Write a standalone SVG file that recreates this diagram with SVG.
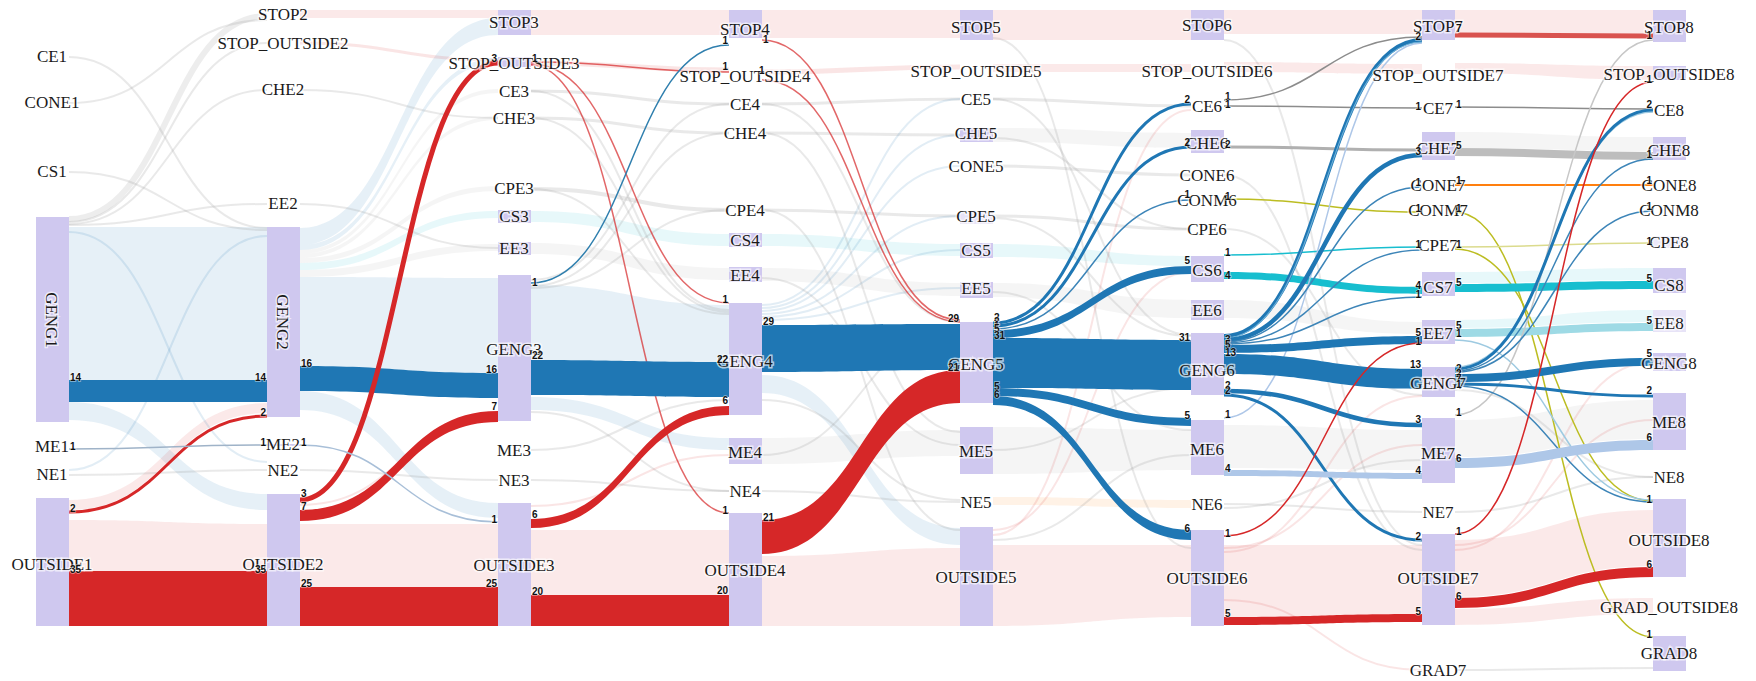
<svg xmlns="http://www.w3.org/2000/svg" width="1756" height="681" viewBox="0 0 1756 681">
<style>
.node{fill:#cfc8ef}
.lbl{font-family:"Liberation Serif","Times New Roman",serif;font-size:17px;fill:#1a1a1a;text-anchor:middle;stroke:#fff;stroke-width:3px;stroke-opacity:.65;paint-order:stroke}
.v{font-family:"Liberation Sans",Arial,sans-serif;font-size:10px;font-weight:bold;fill:#111;stroke:#fff;stroke-width:1.5px;stroke-opacity:.5;paint-order:stroke}
.ve{text-anchor:end}
.fb{fill:#1f77b4;fill-opacity:.11}
.fr{fill:#d62728;fill-opacity:.1}
.fg{fill:#7f7f7f;fill-opacity:.08}
.fc{fill:#17becf;fill-opacity:.1}
.fo{fill:#ff7f0e;fill-opacity:.1}
.fl{fill:none;stroke:#9a9a9a;stroke-opacity:.22;stroke-width:2}
.flb{fill:none;stroke:#1f77b4;stroke-opacity:.13;stroke-width:2}
.flr{fill:none;stroke:#d62728;stroke-opacity:.12;stroke-width:2}
.hb{fill:#1f77b4}
.hr{fill:#d62728}
.hc{fill:#17becf}
.hl{fill:#aec7e8}
.ht{fill:#9edae5}
.s{fill:none}
</style>

<g id="links">
  <g id="context-links">
    <!-- column 1 to 2 -->
    <path class="fb" d="M69 227H267V380H69Z"/>
    <path class="fb" d="M69 402C168 402 168 494 267 494L267 510C168 510 168 420 69 420Z"/>
    <path class="fr" d="M69 500C168 500 168 403 267 403L267 413C168 413 168 510 69 510Z"/>
    <path class="fr" d="M69 520C168 520 168 524 267 524L267 571L69 571Z"/>
    <path class="fl" style="stroke-width:6;stroke-opacity:.18" d="M69 219C168 219 168 16 267 16"/>
    <path class="fl" d="M69 222C168 222 168 43 267 43"/>
    <path class="fl" d="M69 224C168 224 168 90 267 90"/>
    <path class="fl" d="M69 225C168 225 168 204 267 204"/>
    <path class="fl" d="M69 57C168 57 168 228 267 228"/>
    <path class="fl" d="M69 103C168 103 168 20 267 20"/>
    <path class="fl" d="M69 172C168 172 168 230 267 230"/>
    <path class="fl" d="M69 475C168 475 168 470 267 470"/>
    <path class="flb" d="M69 232C168 232 168 462 267 462"/>
    <path class="flb" d="M69 470C168 470 168 236 267 236"/>

    <!-- column 2 to 3 -->
    <path class="fr" d="M300 10H498V18H300Z"/>
    <path class="fb" d="M300 228C399 228 399 18 498 18L498 35C399 35 399 245 300 245Z"/>
    <path class="fb" d="M300 245C399 245 399 58 498 58L498 63C399 63 399 250 300 250Z"/>
    <path class="fg" d="M300 250C399 250 399 89 498 89L498 93C399 93 399 254 300 254Z"/>
    <path class="fg" d="M300 254C399 254 399 116 498 116L498 120C399 120 399 258 300 258Z"/>
    <path class="fg" d="M300 258C399 258 399 186 498 186L498 191C399 191 399 263 300 263Z"/>
    <path class="fc" d="M300 263C399 263 399 211 498 211L498 218C399 218 399 270 300 270Z"/>
    <path class="fg" d="M300 270C399 270 399 244 498 244L498 251C399 251 399 277 300 277Z"/>
    <path class="fb" d="M300 277C399 277 399 278 498 278L498 373C399 373 399 366 300 366Z"/>
    <path class="fb" d="M300 391C399 391 399 503 498 503L498 518C399 518 399 410 300 410Z"/>
    <path class="fr" d="M300 524H498V587H300Z"/>
    <path class="flr" style="stroke-width:3" d="M300 43C399 43 399 60 498 60"/>
    <path class="fl" d="M300 90C399 90 399 118 498 118"/>
    <path class="fl" d="M300 204C399 204 399 248 498 248"/>
    <path class="fl" d="M300 470C399 470 399 480 498 480"/>
    <path class="flr" d="M300 505C399 505 399 420 498 420"/>

    <!-- column 3 to 4 -->
    <path class="fr" d="M531 10H729V35H531Z"/>
    <path class="flr" style="stroke-width:5" d="M531 63C630 63 630 70 729 70"/>
    <path class="fl" style="stroke-width:3" d="M531 91C630 91 630 104 729 104"/>
    <path class="fl" style="stroke-width:3" d="M531 118C630 118 630 133 729 133"/>
    <path class="fl" style="stroke-width:4" d="M531 189C630 189 630 210 729 210"/>
    <path class="fc" d="M531 211C630 211 630 234 729 234L729 246C630 246 630 222 531 222Z"/>
    <path class="fg" d="M531 243C630 243 630 268 729 268L729 280C630 280 630 254 531 254Z"/>
    <path class="fb" d="M531 285C630 285 630 305 729 305L729 362C630 362 630 360 531 360Z"/>
    <path class="fb" d="M531 397C630 397 630 438 729 438L729 450C630 450 630 410 531 410Z"/>
    <path class="fr" d="M531 530H729V595H531Z"/>
    <path class="fl" d="M531 280C630 280 630 104 729 104"/>
    <path class="fl" d="M531 286C630 286 630 133 729 133"/>
    <path class="fl" d="M531 288C630 288 630 210 729 210"/>
    <path class="fl" d="M531 91C630 91 630 310 729 310"/>
    <path class="fl" d="M531 118C630 118 630 312 729 312"/>
    <path class="fl" d="M531 189C630 189 630 314 729 314"/>
    <path class="fl" d="M531 412C630 412 630 491 729 491"/>
    <path class="fl" d="M531 450C630 450 630 400 729 400"/>
    <path class="fl" d="M531 480C630 480 630 491 729 491"/>
    <path class="flr" d="M531 506C630 506 630 455 729 455"/>

    <!-- column 4 to 5 -->
    <path class="fr" d="M762 10H960V38H762Z"/>
    <path class="flr" style="stroke-width:5" d="M762 72C861 72 861 67 960 67"/>
    <path class="fl" style="stroke-width:3" d="M762 104C861 104 861 99 960 99"/>
    <path class="fl" style="stroke-width:3" d="M762 133C861 133 861 135 960 135"/>
    <path class="fl" style="stroke-width:3" d="M762 210C861 210 861 216 960 216"/>
    <path class="fc" d="M762 234C861 234 861 244 960 244L960 256C861 256 861 246 762 246Z"/>
    <path class="fg" d="M762 268C861 268 861 283 960 283L960 296C861 296 861 281 762 281Z"/>
    <path class="fg" d="M762 438C861 438 861 430 960 430L960 456C861 456 861 464 762 464Z"/>
    <path class="fb" d="M762 375C861 375 861 528 960 528L960 545C861 545 861 393 762 393Z"/>
    <path class="fr" d="M762 556C861 556 861 548 960 548L960 626L762 626Z"/>
    <path class="fl" d="M762 491C861 491 861 502 960 502"/>
    <path class="flb" d="M762 305C861 305 861 99 960 99"/>
    <path class="flb" d="M762 308C861 308 861 135 960 135"/>
    <path class="flb" d="M762 311C861 311 861 166 960 166"/>
    <path class="flb" d="M762 314C861 314 861 216 960 216"/>
    <path class="flb" d="M762 317C861 317 861 250 960 250"/>
    <path class="flb" d="M762 320C861 320 861 288 960 288"/>
    <path class="fl" d="M762 133C861 133 861 432 960 432"/>
    <path class="fl" d="M762 210C861 210 861 530 960 530"/>
    <path class="fl" d="M762 278C861 278 861 445 960 445"/>
    <path class="fl" d="M762 400C861 400 861 500 960 500"/>
    <path class="fl" d="M762 104C861 104 861 322 960 322"/>
    <path class="fl" d="M762 455C861 455 861 330 960 330"/>

    <!-- column 5 to 6 -->
    <path class="fr" d="M993 10H1191V40H993Z"/>
    <path class="fr" d="M993 64H1191V72H993Z"/>
    <path class="fl" style="stroke-width:3" d="M993 99C1092 99 1092 106 1191 106"/>
    <path class="fl" style="stroke-width:3" d="M993 166C1092 166 1092 175 1191 175"/>
    <path class="fl" style="stroke-width:3" d="M993 216C1092 216 1092 229 1191 229"/>
    <path class="fg" d="M993 128C1092 128 1092 133 1191 133L1191 148C1092 148 1092 142 993 142Z"/>
    <path class="fc" d="M993 244C1092 244 1092 256 1191 256L1191 266C1092 266 1092 257 993 257Z"/>
    <path class="fg" d="M993 283C1092 283 1092 300 1191 300L1191 318C1092 318 1092 297 993 297Z"/>
    <path class="fg" d="M993 427C1092 427 1092 430 1191 430L1191 470C1092 470 1092 474 993 474Z"/>
    <path class="fo" d="M993 497C1092 497 1092 500 1191 500L1191 508C1092 508 1092 505 993 505Z"/>
    <path class="fr" d="M993 545C1092 545 1092 545 1191 545L1191 617C1092 617 1092 626 993 626Z"/>
    <path class="fl" d="M993 99C1092 99 1092 335 1191 335"/>
    <path class="fl" d="M993 138C1092 138 1092 229 1191 229"/>
    <path class="fl" d="M993 218C1092 218 1092 336 1191 336"/>
    <path class="fl" d="M993 292C1092 292 1092 430 1191 430"/>
    <path class="fl" d="M993 450C1092 450 1092 388 1191 388"/>
    <path class="fl" d="M993 38C1092 38 1092 548 1191 548"/>
    <path class="fl" d="M993 540C1092 540 1092 455 1191 455"/>
    <path class="flr" d="M993 535C1092 535 1092 110 1191 110"/>
    <path class="flr" d="M993 530C1092 530 1092 272 1191 272"/>

    <!-- column 6 to 7 -->
    <path class="fr" d="M1224 10H1422V34H1224Z"/>
    <path class="fr" d="M1224 62C1323 62 1323 64 1422 64L1422 74C1323 74 1323 72 1224 72Z"/>
    <path class="fg" d="M1224 300C1323 300 1323 322 1422 322L1422 334C1323 334 1323 318 1224 318Z"/>
    <path class="fg" d="M1224 425C1323 425 1323 430 1422 430L1422 470C1323 470 1323 468 1224 468Z"/>
    <path class="fr" d="M1224 545C1323 545 1323 545 1422 545L1422 614C1323 614 1323 617 1224 617Z"/>
    <path class="fl" d="M1224 504C1323 504 1323 512 1422 512"/>
    <path class="flr" d="M1224 600C1323 600 1323 670 1422 670"/>
    <path class="fl" d="M1224 40C1323 40 1323 545 1422 545"/>
    <path class="fl" d="M1224 229C1323 229 1323 395 1422 395"/>
    <path class="flr" d="M1224 548C1323 548 1323 445 1422 445"/>
    <path class="flr" d="M1224 552C1323 552 1323 396 1422 396"/>
    <path class="fl" d="M1224 175C1323 175 1323 550 1422 550"/>
    <path class="fl" d="M1224 508C1323 508 1323 460 1422 460"/>

    <!-- column 7 to 8 -->
    <path class="fr" d="M1455 10H1653V33H1455Z"/>
    <path class="fr" d="M1455 63C1554 63 1554 66 1653 66L1653 80C1554 80 1554 73 1455 73Z"/>
    <path class="fg" d="M1455 132C1554 132 1554 137 1653 137L1653 151C1554 151 1554 148 1455 148Z"/>
    <path class="fc" d="M1455 272C1554 272 1554 268 1653 268L1653 280C1554 280 1554 283 1455 283Z"/>
    <path class="fc" d="M1455 320C1554 320 1554 310 1653 310L1653 322C1554 322 1554 328 1455 328Z"/>
    <path class="fg" d="M1455 420C1554 420 1554 400 1653 400L1653 439C1554 439 1554 457 1455 457Z"/>
    <path class="fr" d="M1455 540C1554 540 1554 510 1653 510L1653 566C1554 566 1554 597 1455 597Z"/>
    <path class="fr" d="M1455 609C1554 609 1554 598 1653 598L1653 614C1554 614 1554 625 1455 625Z"/>
    <path class="fl" d="M1455 512C1554 512 1554 477 1653 477"/>
    <path class="fl" d="M1455 670C1554 670 1554 668 1653 668"/>
    <path class="flr" d="M1455 545C1554 545 1554 420 1653 420"/>
    <path class="flr" d="M1455 550C1554 550 1554 362 1653 362"/>
    <path class="fl" d="M1455 390C1554 390 1554 477 1653 477"/>
  </g>

  <g id="highlighted-links">
    <!-- column 1 to 2 -->
    <path class="hb" d="M69 380H267V402H69Z"/>
    <path class="hr" d="M69 571H267V626H69Z"/>
    <path class="s" stroke="#d62728" stroke-width="3" d="M69 512C168 512 168 416 267 416"/>
    <path class="s" stroke="#9fb3c8" stroke-width="1.5" d="M69 449C168 449 168 445 267 445"/>
    <!-- column 2 to 3 -->
    <path class="hb" d="M300 366C399 366 399 373 498 373L498 398C399 398 399 391 300 391Z"/>
    <path class="s" stroke="#d62728" stroke-width="5" d="M300 500C399 500 399 63 498 63"/>
    <path class="hr" d="M300 510C399 510 399 411 498 411L498 422C399 422 399 521 300 521Z"/>
    <path class="s" stroke="#a8bfd8" stroke-width="1.5" d="M300 445C399 445 399 522 498 522"/>
    <path class="hr" d="M300 587H498V626H300Z"/>
    <!-- column 3 to 4 -->
    <g class="s" stroke="#d62728" stroke-opacity=".7" stroke-width="1.5">
      <path d="M531 62C630 62 630 72 729 72"/>
      <path d="M531 64C630 64 630 303 729 303"/>
      <path d="M531 65C630 65 630 513 729 513"/>
    </g>
    <path class="s" stroke="#2f7fae" stroke-width="1.5" d="M531 283C630 283 630 45 729 45"/>
    <path class="hb" d="M531 360C630 360 630 362 729 362L729 397C630 397 630 395 531 395Z"/>
    <path class="hr" d="M531 519C630 519 630 406 729 406L729 415C630 415 630 528 531 528Z"/>
    <path class="hr" d="M531 595H729V626H531Z"/>
    <!-- column 4 to 5 -->
    <g class="s" stroke="#d62728" stroke-opacity=".7" stroke-width="1.5">
      <path d="M762 40C861 40 861 320 960 320"/>
      <path d="M762 80C861 80 861 322 960 322"/>
    </g>
    <path class="hb" d="M762 325C861 325 861 324 960 324L960 370C861 370 861 372 762 372Z"/>
    <path class="hr" d="M762 520C861 520 861 370 960 370L960 403C861 403 861 554 762 554Z"/>
    <!-- column 5 to 6 -->
    <path class="s" stroke="#1f77b4" stroke-width="3" d="M993 323C1092 323 1092 104 1191 104"/>
    <path class="s" stroke="#1f77b4" stroke-width="3" d="M993 326C1092 326 1092 147 1191 147"/>
    <path class="s" stroke="#3d85b8" stroke-width="1.5" d="M993 329C1092 329 1092 200 1191 200"/>
    <path class="hb" d="M993 330C1092 330 1092 266 1191 266L1191 274C1092 274 1092 338 993 338Z"/>
    <path class="hb" d="M993 338C1092 338 1092 340 1191 340L1191 390C1092 390 1092 388 993 388Z"/>
    <path class="hb" d="M993 388C1092 388 1092 418 1191 418L1191 426C1092 426 1092 396 993 396Z"/>
    <path class="hb" d="M993 396C1092 396 1092 530 1191 530L1191 540C1092 540 1092 405 993 405Z"/>
    <!-- column 6 to 7 -->
    <path class="s" stroke="#8c8c8c" stroke-width="1.5" d="M1224 100C1323 100 1323 37 1422 37"/>
    <path class="s" stroke="#8c8c8c" stroke-width="1.5" d="M1224 106C1323 106 1323 108 1422 108"/>
    <path class="s" stroke="#b0b0b0" stroke-width="3" d="M1224 147C1323 147 1323 150 1422 150"/>
    <path class="s" stroke="#bcbd22" stroke-width="1.5" d="M1224 199C1323 199 1323 212 1422 212"/>
    <path class="s" stroke="#17becf" stroke-width="1.5" d="M1224 255C1323 255 1323 247 1422 247"/>
    <path class="hc" d="M1224 272C1323 272 1323 287 1422 287L1422 294C1323 294 1323 279 1224 279Z"/>
    <path class="s" stroke="#aec7e8" stroke-width="1.5" d="M1224 418C1323 418 1323 43 1422 43"/>
    <path class="s" stroke="#1f77b4" stroke-width="4" d="M1224 336C1323 336 1323 40 1422 40"/>
    <path class="s" stroke="#6aaed6" stroke-width="1.2" d="M1224 338C1323 338 1323 42 1422 42"/>
    <path class="s" stroke="#1f77b4" stroke-width="4.5" d="M1224 340C1323 340 1323 155 1422 155"/>
    <path class="s" stroke="#3d85b8" stroke-width="1.5" d="M1224 342C1323 342 1323 187 1422 187"/>
    <path class="s" stroke="#3d85b8" stroke-width="1.5" d="M1224 343C1323 343 1323 250 1422 250"/>
    <path class="s" stroke="#3d85b8" stroke-width="1.5" d="M1224 344C1323 344 1323 297 1422 297"/>
    <path class="hb" d="M1224 345C1323 345 1323 336 1422 336L1422 344C1323 344 1323 353 1224 353Z"/>
    <path class="hb" d="M1224 354C1323 354 1323 369 1422 369L1422 389C1323 389 1323 374 1224 374Z"/>
    <path class="s" stroke="#1f77b4" stroke-width="4.5" d="M1224 391C1323 391 1323 425 1422 425"/>
    <path class="s" stroke="#1f77b4" stroke-width="3" d="M1224 395C1323 395 1323 540 1422 540"/>
    <path class="hl" d="M1224 470C1323 470 1323 473 1422 473L1422 479C1323 479 1323 476 1224 476Z"/>
    <path class="s" stroke="#d62728" stroke-width="1.5" d="M1224 536C1323 536 1323 343 1422 343"/>
    <path class="hr" d="M1224 617C1323 617 1323 614 1422 614L1422 622C1323 622 1323 625 1224 625Z"/>
    <!-- column 7 to 8 -->
    <path class="s" stroke="#d9534f" stroke-width="5" d="M1455 35C1554 35 1554 36 1653 36"/>
    <path class="s" stroke="#8c8c8c" stroke-width="1.5" d="M1455 107C1554 107 1554 109 1653 109"/>
    <path class="s" stroke="#bdbdbd" stroke-width="8" d="M1455 152C1554 152 1554 156 1653 156"/>
    <path class="s" stroke="#ff7f0e" stroke-width="1.8" d="M1455 185C1554 185 1554 185 1653 185"/>
    <path class="s" stroke="#bcbd22" stroke-width="1.5" d="M1455 212C1554 212 1554 637 1653 637"/>
    <path class="s" stroke="#dbdb8d" stroke-width="1.5" d="M1455 247C1554 247 1554 243 1653 243"/>
    <path class="s" stroke="#bcbd22" stroke-width="1.5" d="M1455 249C1554 249 1554 501 1653 501"/>
    <path class="hc" d="M1455 284C1554 284 1554 281 1653 281L1653 289C1554 289 1554 292 1455 292Z"/>
    <path class="ht" d="M1455 329C1554 329 1554 323 1653 323L1653 331C1554 331 1554 337 1455 337Z"/>
    <path class="s" stroke="#9ecae1" stroke-width="1.5" d="M1455 340C1554 340 1554 500 1653 500"/>
    <path class="s" stroke="#c7c7c7" stroke-width="1.5" d="M1455 415C1554 415 1554 40 1653 40"/>
    <path class="s" stroke="#9ecae1" stroke-width="1.5" d="M1455 367C1554 367 1554 112 1653 112"/>
    <path class="s" stroke="#1f77b4" stroke-width="3" d="M1455 369C1554 369 1554 110 1653 110"/>
    <path class="s" stroke="#3d85b8" stroke-width="1.5" d="M1455 371C1554 371 1554 159 1653 159"/>
    <path class="s" stroke="#3d85b8" stroke-width="1.5" d="M1455 372C1554 372 1554 211 1653 211"/>
    <path class="hb" d="M1455 374C1554 374 1554 358 1653 358L1653 366C1554 366 1554 382 1455 382Z"/>
    <path class="s" stroke="#1f77b4" stroke-width="3" d="M1455 384C1554 384 1554 396 1653 396"/>
    <path class="s" stroke="#3d85b8" stroke-width="1.5" d="M1455 386C1554 386 1554 502 1653 502"/>
    <path class="hl" d="M1455 458C1554 458 1554 440 1653 440L1653 450C1554 450 1554 468 1455 468Z"/>
    <path class="s" stroke="#d62728" stroke-width="1.5" d="M1455 534C1554 534 1554 82 1653 82"/>
    <path class="hr" d="M1455 598C1554 598 1554 567 1653 567L1653 577C1554 577 1554 608 1455 608Z"/>
  </g>
</g>

<g id="nodes">
  <g id="n-CE1"><text class="lbl" x="52" y="62">CE1</text></g>
  <g id="n-CONE1"><text class="lbl" x="52" y="108">CONE1</text></g>
  <g id="n-CS1"><text class="lbl" x="52" y="177">CS1</text></g>
  <g id="n-GENG1"><rect class="node" x="36" y="217" width="33" height="205"/><text class="lbl" transform="translate(46 320) rotate(90)">GENG1</text></g>
  <g id="n-ME1"><text class="lbl" x="52" y="452">ME1</text></g>
  <g id="n-NE1"><text class="lbl" x="52" y="480">NE1</text></g>
  <g id="n-OUTSIDE1"><rect class="node" x="36" y="498" width="33" height="128"/><text class="lbl" x="52" y="570">OUTSIDE1</text></g>

  <g id="n-STOP2"><text class="lbl" x="283" y="20">STOP2</text></g>
  <g id="n-STOP_OUTSIDE2"><text class="lbl" x="283" y="49">STOP_OUTSIDE2</text></g>
  <g id="n-CHE2"><text class="lbl" x="283" y="95">CHE2</text></g>
  <g id="n-EE2"><text class="lbl" x="283" y="209">EE2</text></g>
  <g id="n-GENG2"><rect class="node" x="267" y="227" width="33" height="190"/><text class="lbl" transform="translate(277 322) rotate(90)">GENG2</text></g>
  <g id="n-ME2"><rect class="node" x="267" y="444" width="33" height="2"/><text class="lbl" x="283" y="450">ME2</text></g>
  <g id="n-NE2"><text class="lbl" x="283" y="476">NE2</text></g>
  <g id="n-OUTSIDE2"><rect class="node" x="267" y="494" width="33" height="132"/><text class="lbl" x="283" y="570">OUTSIDE2</text></g>

  <g id="n-STOP3"><rect class="node" x="498" y="10" width="33" height="25"/><text class="lbl" x="514" y="28">STOP3</text></g>
  <g id="n-STOP_OUTSIDE3"><rect class="node" x="498" y="57" width="33" height="10"/><text class="lbl" x="514" y="69">STOP_OUTSIDE3</text></g>
  <g id="n-CE3"><text class="lbl" x="514" y="97">CE3</text></g>
  <g id="n-CHE3"><text class="lbl" x="514" y="124">CHE3</text></g>
  <g id="n-CPE3"><text class="lbl" x="514" y="194">CPE3</text></g>
  <g id="n-CS3"><rect class="node" x="498" y="210" width="33" height="13"/><text class="lbl" x="514" y="222">CS3</text></g>
  <g id="n-EE3"><rect class="node" x="498" y="242" width="33" height="13"/><text class="lbl" x="514" y="254">EE3</text></g>
  <g id="n-GENG3"><rect class="node" x="498" y="275" width="33" height="146"/><text class="lbl" x="514" y="355">GENG3</text></g>
  <g id="n-ME3"><text class="lbl" x="514" y="456">ME3</text></g>
  <g id="n-NE3"><text class="lbl" x="514" y="486">NE3</text></g>
  <g id="n-OUTSIDE3"><rect class="node" x="498" y="503" width="33" height="123"/><text class="lbl" x="514" y="571">OUTSIDE3</text></g>

  <g id="n-STOP4"><rect class="node" x="729" y="10" width="33" height="28"/><text class="lbl" x="745" y="35">STOP4</text></g>
  <g id="n-STOP_OUTSIDE4"><text class="lbl" x="745" y="82">STOP_OUTSIDE4</text></g>
  <g id="n-CE4"><text class="lbl" x="745" y="110">CE4</text></g>
  <g id="n-CHE4"><text class="lbl" x="745" y="139">CHE4</text></g>
  <g id="n-CPE4"><text class="lbl" x="745" y="216">CPE4</text></g>
  <g id="n-CS4"><rect class="node" x="729" y="233" width="33" height="14"/><text class="lbl" x="745" y="246">CS4</text></g>
  <g id="n-EE4"><rect class="node" x="729" y="267" width="33" height="15"/><text class="lbl" x="745" y="281">EE4</text></g>
  <g id="n-GENG4"><rect class="node" x="729" y="303" width="33" height="112"/><text class="lbl" x="745" y="367">GENG4</text></g>
  <g id="n-ME4"><rect class="node" x="729" y="438" width="33" height="26"/><text class="lbl" x="745" y="458">ME4</text></g>
  <g id="n-NE4"><text class="lbl" x="745" y="497">NE4</text></g>
  <g id="n-OUTSIDE4"><rect class="node" x="729" y="513" width="33" height="113"/><text class="lbl" x="745" y="576">OUTSIDE4</text></g>

  <g id="n-STOP5"><rect class="node" x="960" y="10" width="33" height="30"/><text class="lbl" x="976" y="33">STOP5</text></g>
  <g id="n-STOP_OUTSIDE5"><text class="lbl" x="976" y="77">STOP_OUTSIDE5</text></g>
  <g id="n-CE5"><text class="lbl" x="976" y="105">CE5</text></g>
  <g id="n-CHE5"><rect class="node" x="960" y="128" width="33" height="14"/><text class="lbl" x="976" y="139">CHE5</text></g>
  <g id="n-CONE5"><text class="lbl" x="976" y="172">CONE5</text></g>
  <g id="n-CPE5"><rect class="node" x="960" y="212" width="33" height="12" style="fill-opacity:.5"/><text class="lbl" x="976" y="222">CPE5</text></g>
  <g id="n-CS5"><rect class="node" x="960" y="243" width="33" height="15"/><text class="lbl" x="976" y="256">CS5</text></g>
  <g id="n-EE5"><rect class="node" x="960" y="282" width="33" height="16"/><text class="lbl" x="976" y="294">EE5</text></g>
  <g id="n-GENG5"><rect class="node" x="960" y="322" width="33" height="81"/><text class="lbl" x="976" y="370">GENG5</text></g>
  <g id="n-ME5"><rect class="node" x="960" y="427" width="33" height="47"/><text class="lbl" x="976" y="457">ME5</text></g>
  <g id="n-NE5"><text class="lbl" x="976" y="508">NE5</text></g>
  <g id="n-OUTSIDE5"><rect class="node" x="960" y="527" width="33" height="99"/><text class="lbl" x="976" y="583">OUTSIDE5</text></g>

  <g id="n-STOP6"><rect class="node" x="1191" y="10" width="33" height="30"/><text class="lbl" x="1207" y="31">STOP6</text></g>
  <g id="n-STOP_OUTSIDE6"><text class="lbl" x="1207" y="77">STOP_OUTSIDE6</text></g>
  <g id="n-CE6"><text class="lbl" x="1207" y="112">CE6</text></g>
  <g id="n-CHE6"><rect class="node" x="1191" y="130" width="33" height="23"/><text class="lbl" x="1207" y="149">CHE6</text></g>
  <g id="n-CONE6"><text class="lbl" x="1207" y="181">CONE6</text></g>
  <g id="n-CONM6"><text class="lbl" x="1207" y="206">CONM6</text></g>
  <g id="n-CPE6"><text class="lbl" x="1207" y="235">CPE6</text></g>
  <g id="n-CS6"><rect class="node" x="1191" y="256" width="33" height="26"/><text class="lbl" x="1207" y="276">CS6</text></g>
  <g id="n-EE6"><rect class="node" x="1191" y="300" width="33" height="20"/><text class="lbl" x="1207" y="316">EE6</text></g>
  <g id="n-GENG6"><rect class="node" x="1191" y="333" width="33" height="62"/><text class="lbl" x="1207" y="376">GENG6</text></g>
  <g id="n-ME6"><rect class="node" x="1191" y="420" width="33" height="55"/><text class="lbl" x="1207" y="455">ME6</text></g>
  <g id="n-NE6"><text class="lbl" x="1207" y="510">NE6</text></g>
  <g id="n-OUTSIDE6"><rect class="node" x="1191" y="530" width="33" height="96"/><text class="lbl" x="1207" y="584">OUTSIDE6</text></g>

  <g id="n-STOP7"><rect class="node" x="1422" y="10" width="33" height="30"/><text class="lbl" x="1438" y="32">STOP7</text></g>
  <g id="n-STOP_OUTSIDE7"><text class="lbl" x="1438" y="81">STOP_OUTSIDE7</text></g>
  <g id="n-CE7"><text class="lbl" x="1438" y="114">CE7</text></g>
  <g id="n-CHE7"><rect class="node" x="1422" y="132" width="33" height="28"/><text class="lbl" x="1438" y="154">CHE7</text></g>
  <g id="n-CONE7"><text class="lbl" x="1438" y="191">CONE7</text></g>
  <g id="n-CONM7"><text class="lbl" x="1438" y="216">CONM7</text></g>
  <g id="n-CPE7"><text class="lbl" x="1438" y="251">CPE7</text></g>
  <g id="n-CS7"><rect class="node" x="1422" y="272" width="33" height="24"/><text class="lbl" x="1438" y="293">CS7</text></g>
  <g id="n-EE7"><rect class="node" x="1422" y="320" width="33" height="24"/><text class="lbl" x="1438" y="339">EE7</text></g>
  <g id="n-GENG7"><rect class="node" x="1422" y="367" width="33" height="30"/><text class="lbl" x="1438" y="389">GENG7</text></g>
  <g id="n-ME7"><rect class="node" x="1422" y="418" width="33" height="65"/><text class="lbl" x="1438" y="459">ME7</text></g>
  <g id="n-NE7"><text class="lbl" x="1438" y="518">NE7</text></g>
  <g id="n-OUTSIDE7"><rect class="node" x="1422" y="534" width="33" height="91"/><text class="lbl" x="1438" y="584">OUTSIDE7</text></g>
  <g id="n-GRAD7"><text class="lbl" x="1438" y="676">GRAD7</text></g>

  <g id="n-STOP8"><rect class="node" x="1653" y="10" width="33" height="32"/><text class="lbl" x="1669" y="33">STOP8</text></g>
  <g id="n-STOP_OUTSIDE8"><rect class="node" x="1653" y="66" width="33" height="14"/><text class="lbl" x="1669" y="80">STOP_OUTSIDE8</text></g>
  <g id="n-CE8"><text class="lbl" x="1669" y="116">CE8</text></g>
  <g id="n-CHE8"><rect class="node" x="1653" y="137" width="33" height="23"/><text class="lbl" x="1669" y="156">CHE8</text></g>
  <g id="n-CONE8"><text class="lbl" x="1669" y="191">CONE8</text></g>
  <g id="n-CONM8"><text class="lbl" x="1669" y="216">CONM8</text></g>
  <g id="n-CPE8"><rect class="node" x="1653" y="236" width="33" height="12" style="fill-opacity:.4"/><text class="lbl" x="1669" y="248">CPE8</text></g>
  <g id="n-CS8"><rect class="node" x="1653" y="268" width="33" height="25"/><text class="lbl" x="1669" y="291">CS8</text></g>
  <g id="n-EE8"><rect class="node" x="1653" y="310" width="33" height="22" style="fill-opacity:.5"/><text class="lbl" x="1669" y="329">EE8</text></g>
  <g id="n-GENG8"><rect class="node" x="1653" y="353" width="33" height="18"/><text class="lbl" x="1669" y="369">GENG8</text></g>
  <g id="n-ME8"><rect class="node" x="1653" y="393" width="33" height="57"/><text class="lbl" x="1669" y="428">ME8</text></g>
  <g id="n-NE8"><text class="lbl" x="1669" y="483">NE8</text></g>
  <g id="n-OUTSIDE8"><rect class="node" x="1653" y="499" width="33" height="78"/><text class="lbl" x="1669" y="546">OUTSIDE8</text></g>
  <g id="n-GRAD_OUTSIDE8"><text class="lbl" x="1669" y="613">GRAD_OUTSIDE8</text></g>
  <g id="n-GRAD8"><rect class="node" x="1653" y="636" width="33" height="35"/><text class="lbl" x="1669" y="659">GRAD8</text></g>
</g>

<g id="link-values">
  <text class="v" x="70" y="381">14</text>
  <text class="v" x="70" y="450">1</text>
  <text class="v" x="70" y="512">2</text>
  <text class="v" x="70" y="573">35</text>
  <text class="v ve" x="266" y="381">14</text>
  <text class="v ve" x="266" y="416">2</text>
  <text class="v ve" x="266" y="446">1</text>
  <text class="v ve" x="266" y="573">35</text>
  <text class="v" x="301" y="367">16</text>
  <text class="v" x="301" y="446">1</text>
  <text class="v" x="301" y="497">3</text>
  <text class="v" x="301" y="510">7</text>
  <text class="v" x="301" y="587">25</text>
  <text class="v ve" x="497" y="62">3</text>
  <text class="v ve" x="497" y="373">16</text>
  <text class="v ve" x="497" y="410">7</text>
  <text class="v ve" x="497" y="523">1</text>
  <text class="v ve" x="497" y="587">25</text>
  <text class="v" x="532" y="62">1</text>
  <text class="v" x="532" y="286">1</text>
  <text class="v" x="532" y="359">22</text>
  <text class="v" x="532" y="518">6</text>
  <text class="v" x="532" y="595">20</text>
  <text class="v ve" x="728" y="44">1</text>
  <text class="v ve" x="728" y="70">1</text>
  <text class="v ve" x="728" y="303">1</text>
  <text class="v ve" x="728" y="363">22</text>
  <text class="v ve" x="728" y="404">6</text>
  <text class="v ve" x="728" y="514">1</text>
  <text class="v ve" x="728" y="594">20</text>
  <text class="v" x="763" y="43">1</text>
  <text class="v" x="759" y="74">1</text>
  <text class="v" x="763" y="325">29</text>
  <text class="v" x="763" y="521">21</text>
  <text class="v ve" x="959" y="322">29</text>
  <text class="v ve" x="959" y="371">21</text>
  <text class="v" x="994" y="321">2</text>
  <text class="v" x="994" y="325">2</text>
  <text class="v" x="994" y="329">1</text>
  <text class="v" x="994" y="332">5</text>
  <text class="v" x="994" y="339">31</text>
  <text class="v" x="994" y="390">5</text>
  <text class="v" x="994" y="398">6</text>
  <text class="v ve" x="1190" y="103">2</text>
  <text class="v ve" x="1190" y="146">2</text>
  <text class="v ve" x="1190" y="198">1</text>
  <text class="v ve" x="1190" y="264">5</text>
  <text class="v ve" x="1190" y="341">31</text>
  <text class="v ve" x="1190" y="419">5</text>
  <text class="v ve" x="1190" y="532">6</text>
  <text class="v" x="1225" y="100">1</text>
  <text class="v" x="1225" y="108">1</text>
  <text class="v" x="1225" y="148">2</text>
  <text class="v" x="1225" y="200">1</text>
  <text class="v" x="1225" y="256">1</text>
  <text class="v" x="1225" y="279">4</text>
  <text class="v" x="1225" y="343">3</text>
  <text class="v" x="1225" y="348">5</text>
  <text class="v" x="1225" y="356">13</text>
  <text class="v" x="1225" y="389">2</text>
  <text class="v" x="1225" y="394">2</text>
  <text class="v" x="1225" y="418">1</text>
  <text class="v" x="1225" y="472">4</text>
  <text class="v" x="1225" y="537">1</text>
  <text class="v" x="1225" y="617">5</text>
  <text class="v ve" x="1421" y="40">2</text>
  <text class="v ve" x="1421" y="110">1</text>
  <text class="v ve" x="1421" y="155">3</text>
  <text class="v ve" x="1421" y="186">1</text>
  <text class="v ve" x="1421" y="212">1</text>
  <text class="v ve" x="1421" y="248">1</text>
  <text class="v ve" x="1421" y="289">4</text>
  <text class="v ve" x="1421" y="298">1</text>
  <text class="v ve" x="1421" y="336">5</text>
  <text class="v ve" x="1421" y="345">1</text>
  <text class="v ve" x="1421" y="368">13</text>
  <text class="v ve" x="1421" y="423">3</text>
  <text class="v ve" x="1421" y="474">4</text>
  <text class="v ve" x="1421" y="540">2</text>
  <text class="v ve" x="1421" y="615">5</text>
  <text class="v" x="1456" y="32">7</text>
  <text class="v" x="1456" y="108">1</text>
  <text class="v" x="1456" y="149">5</text>
  <text class="v" x="1456" y="184">1</text>
  <text class="v" x="1456" y="212">1</text>
  <text class="v" x="1456" y="248">1</text>
  <text class="v" x="1456" y="286">5</text>
  <text class="v" x="1456" y="329">5</text>
  <text class="v" x="1456" y="337">1</text>
  <text class="v" x="1456" y="372">2</text>
  <text class="v" x="1456" y="377">2</text>
  <text class="v" x="1456" y="382">7</text>
  <text class="v" x="1456" y="388">1</text>
  <text class="v" x="1456" y="416">1</text>
  <text class="v" x="1456" y="462">6</text>
  <text class="v" x="1456" y="535">1</text>
  <text class="v" x="1456" y="600">6</text>
  <text class="v ve" x="1652" y="39">1</text>
  <text class="v ve" x="1652" y="83">1</text>
  <text class="v ve" x="1652" y="108">2</text>
  <text class="v ve" x="1652" y="158">1</text>
  <text class="v ve" x="1652" y="184">1</text>
  <text class="v ve" x="1652" y="210">1</text>
  <text class="v ve" x="1652" y="245">1</text>
  <text class="v ve" x="1652" y="282">5</text>
  <text class="v ve" x="1652" y="324">5</text>
  <text class="v ve" x="1652" y="357">5</text>
  <text class="v ve" x="1652" y="394">2</text>
  <text class="v ve" x="1652" y="441">6</text>
  <text class="v ve" x="1652" y="503">1</text>
  <text class="v ve" x="1652" y="568">6</text>
  <text class="v ve" x="1652" y="638">1</text>
</g>
</svg>
